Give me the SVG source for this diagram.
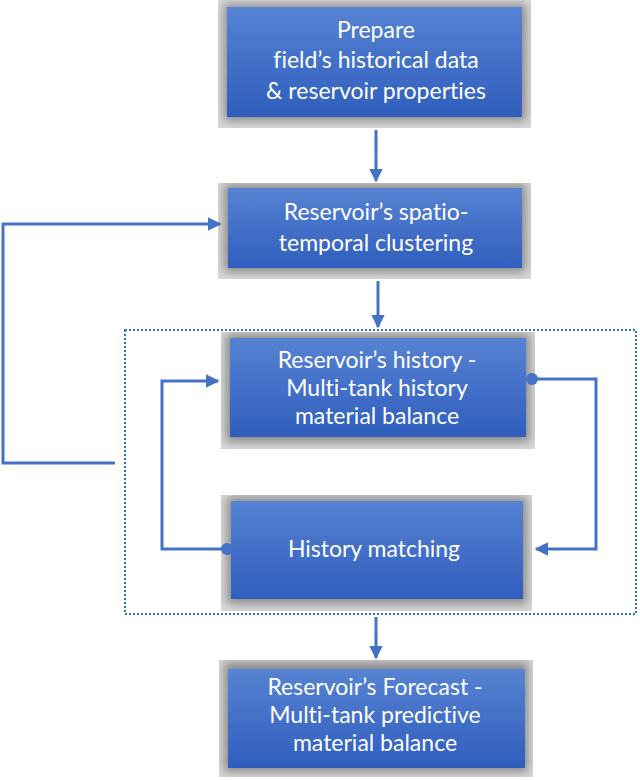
<svg xmlns="http://www.w3.org/2000/svg" width="640" height="780" viewBox="0 0 640 780">
<style>
.lbl{font-family:Lato,"Open Sans","Liberation Sans",sans-serif;font-size:23px;fill:#ffffff;text-anchor:middle;font-variant-ligatures:none}
.frame{fill:#d8d8d8}
.shadow{fill:#8a8a8a;filter:url(#blur)}
.box{fill:url(#blue)}
.conn{fill:none;stroke:#4472C4;stroke-width:3}
</style>
<defs>
<linearGradient id="blue" x1="0" y1="0" x2="0" y2="1">
<stop offset="0" stop-color="#5783D3"/>
<stop offset="1" stop-color="#2F5EBD"/>
</linearGradient>
<filter id="blur" x="-10%" y="-20%" width="120%" height="140%"><feGaussianBlur stdDeviation="5"/></filter>
<marker id="arr" viewBox="0 0 10 10" refX="9" refY="5" markerWidth="4.5" markerHeight="4.5" orient="auto" markerUnits="strokeWidth">
<path d="M0,0 L10,5 L0,10 z" fill="#4472C4"/>
</marker>
<marker id="dot" viewBox="0 0 10 10" refX="5" refY="5" markerWidth="4" markerHeight="4" markerUnits="strokeWidth">
<circle cx="5" cy="5" r="5" fill="#4472C4"/>
</marker>
<clipPath id="c1"><rect x="218" y="0" width="313" height="128"/></clipPath>
<clipPath id="c2"><rect x="218" y="183" width="313" height="96"/></clipPath>
<clipPath id="c3"><rect x="221" y="332" width="314" height="117"/></clipPath>
<clipPath id="c4"><rect x="221" y="495" width="311" height="116"/></clipPath>
<clipPath id="c5"><rect x="219" y="660" width="314" height="117"/></clipPath>
</defs>

<rect x="125" y="330" width="511" height="284" fill="none" stroke="#2E75B6" stroke-width="2" stroke-dasharray="2,2"/>

<g id="n1">
<rect class="frame" x="218" y="0" width="313" height="128"/>
<rect class="shadow" x="224" y="4" width="302" height="117" clip-path="url(#c1)"/>
<rect class="box" x="227" y="7" width="295" height="110"/>
<text class="lbl" x="376" y="38">Prepare</text>
<text class="lbl" x="376" y="68">field’s historical data</text>
<text class="lbl" x="376" y="99">&amp; reservoir properties</text>
</g>

<g id="n2">
<rect class="frame" x="218" y="183" width="313" height="96"/>
<rect class="shadow" x="224" y="184" width="302" height="88" clip-path="url(#c2)"/>
<rect class="box" x="228" y="188" width="294" height="80"/>
<text class="lbl" x="376" y="220">Reservoir’s spatio-</text>
<text class="lbl" x="376" y="251">temporal clustering</text>
</g>

<g id="n3">
<rect class="frame" x="221" y="332" width="314" height="117"/>
<rect class="shadow" x="226" y="334" width="304" height="108" clip-path="url(#c3)"/>
<rect class="box" x="230" y="338" width="296" height="99"/>
<text class="lbl" x="377" y="368">Reservoir’s history -</text>
<text class="lbl" x="377" y="396">Multi-tank history</text>
<text class="lbl" x="377" y="424">material balance</text>
</g>

<g id="n4">
<rect class="frame" x="221" y="495" width="311" height="116"/>
<rect class="shadow" x="227" y="497" width="300" height="107" clip-path="url(#c4)"/>
<rect class="box" x="231" y="501" width="292" height="98"/>
<text class="lbl" x="374" y="557">History matching</text>
</g>

<g id="n5">
<rect class="frame" x="219" y="660" width="314" height="117"/>
<rect class="shadow" x="224" y="662" width="304" height="110" clip-path="url(#c5)"/>
<rect class="box" x="228" y="669" width="297" height="99"/>
<text class="lbl" x="375" y="695">Reservoir’s Forecast -</text>
<text class="lbl" x="375" y="723">Multi-tank predictive</text>
<text class="lbl" x="375" y="751">material balance</text>
</g>

<g id="connectors">
<path class="conn" d="M376,130 L376,181" marker-end="url(#arr)"/>
<path class="conn" d="M378,281 L378,327" marker-end="url(#arr)"/>
<path class="conn" d="M376,617 L376,658" marker-end="url(#arr)"/>
<path class="conn" d="M115,463 L3,463 L3,224 L220,224" marker-end="url(#arr)"/>
<path class="conn" d="M227,549 L162,549 L162,381 L218,381" marker-start="url(#dot)" marker-end="url(#arr)"/>
<path class="conn" d="M532,379 L596,379 L596,549 L536,549" marker-start="url(#dot)" marker-end="url(#arr)"/>
</g>
</svg>
